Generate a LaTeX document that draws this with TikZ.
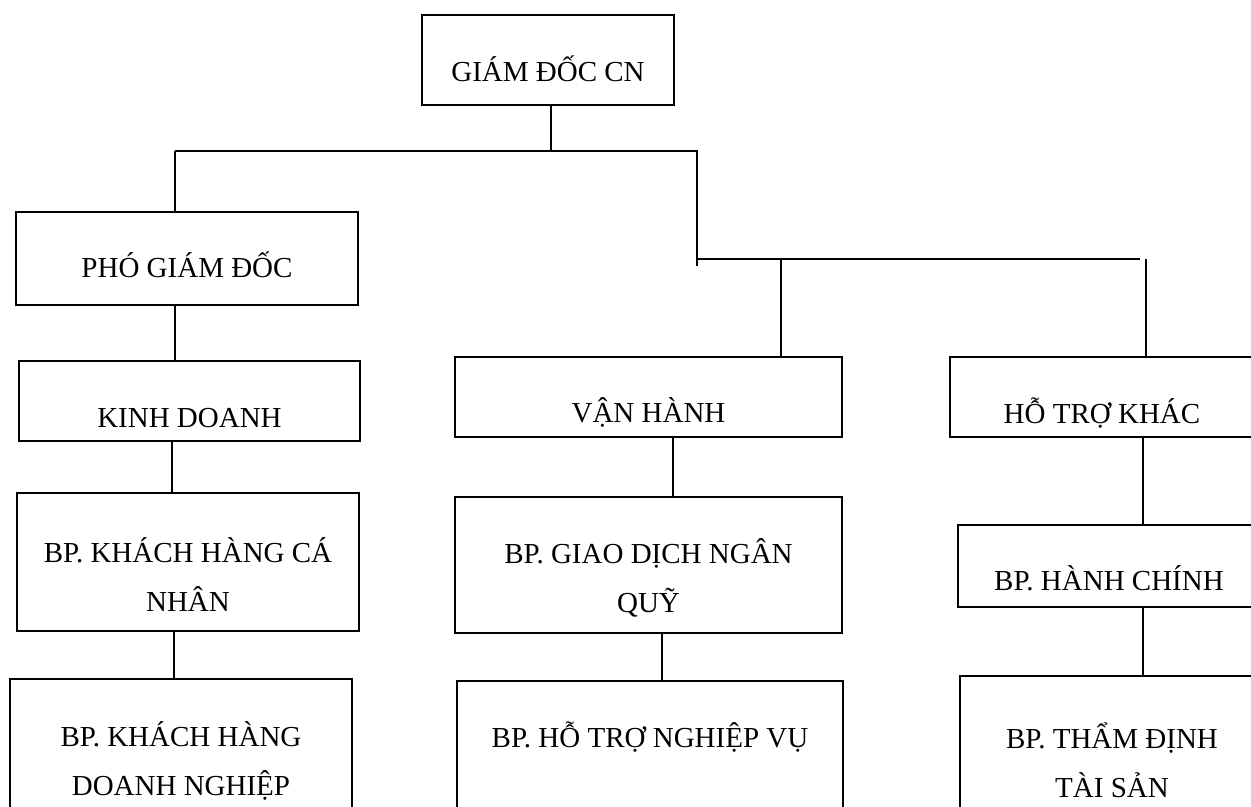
\documentclass[tikz,border=0pt]{standalone}
\usepackage{fontspec}
\setmainfont{Liberation Serif}
\usetikzlibrary{fit}
\tikzset{
	box/.style={draw, line width=0.6pt, inner sep=0pt},
	txt/.style={font=\fontsize{14.5}{24.5}\selectfont, align=center, inner sep=0pt},
	oneline/.style={txt, text height=9.6pt, text depth=0pt},
	link/.style={line width=0.6pt},
}

\begin{document}
\begin{tikzpicture}[x=0.5pt, y=-0.5pt]
		%%%%% START %%%%%
		\useasboundingbox (0, 0) rectangle (1251, 807);
		\clip (0, 0) rectangle (1251, 807);
		
		% top
		\node[box, fit={(422, 15) (674, 105)}, label={[oneline, yshift=-5.75pt]center:GIÁM ĐỐC CN}] (gd) {};
		
		% left branch
		\node[box, fit={(16, 212) (358, 305)}, label={[oneline, yshift=-4.75pt]center:PHÓ GIÁM ĐỐC}] (pho) {};
		\node[box, fit={(19, 361) (360, 441)}, label={[oneline, yshift=-8.5pt]center:KINH DOANH}] (kd) {};
		\node[box, fit={(17, 493) (359, 631)}, label={[txt, yshift=-6.5pt]center:BP. KHÁCH HÀNG CÁ\\NHÂN}] (khcn) {};
		\node[box, fit={(10, 679) (352, 820)}, label={[txt, yshift=-5.5pt]center:BP. KHÁCH HÀNG\\DOANH NGHIỆP}] (khdn) {};
		
		% middle branch
		\node[box, fit={(455, 357) (842, 437)}, label={[oneline, yshift=-8pt]center:VẬN HÀNH}] (vh) {};
		\node[box, fit={(455, 497) (842, 633)}, label={[txt, yshift=-6.5pt]center:BP. GIAO DỊCH NGÂN\\QUỸ}] (gdnq) {};
		\node[box, fit={(457, 681) (843, 820)}, label={[oneline, yshift=6.5pt]center:BP. HỖ TRỢ NGHIỆP VỤ}] (htnv) {};
		
		% right branch
		\node[box, fit={(950, 357) (1254, 437)}, label={[oneline, yshift=-8.5pt]center:HỖ TRỢ KHÁC}] (htk) {};
		\node[box, fit={(958, 525) (1260, 607)}, label={[oneline, yshift=-7.25pt]center:BP. HÀNH CHÍNH}] (hc) {};
		\node[box, fit={(960, 676) (1264, 820)}, label={[txt, yshift=-6pt]center:BP. THẨM ĐỊNH\\TÀI SẢN}] (td) {};
		
		% buses
		\coordinate (bus1l) at (175, 151);
		\coordinate (bus1r) at (697, 151);
		\coordinate (bus2l) at (697, 259);
		\coordinate (bus2r) at (1140, 259);
		\coordinate (drop) at (697, 266);
		
		\draw[link] (gd.south -| 551,0) -- (bus1l -| 551,0);
		\draw[link] (bus1l) -- (bus1r) -- (drop);
		\draw[link] (bus2l) -- (bus2r);
		\draw[link] (bus1l) -- (pho.north -| bus1l);
		\draw[link] (bus2l -| 781,0) -- (vh.north -| 781,0);
		\draw[link] (bus2l -| 1146,0) -- (htk.north -| 1146,0);
		
		% left column
		\draw[link] (pho.south -| 175,0) -- (kd.north -| 175,0);
		\draw[link] (kd.south -| 172,0) -- (khcn.north -| 172,0);
		\draw[link] (khcn.south -| 174,0) -- (khdn.north -| 174,0);
		
		% middle column
		\draw[link] (vh.south -| 673,0) -- (gdnq.north -| 673,0);
		\draw[link] (gdnq.south -| 662,0) -- (htnv.north -| 662,0);
		
		% right column
		\draw[link] (htk.south -| 1143,0) -- (hc.north -| 1143,0);
		\draw[link] (hc.south -| 1143,0) -- (td.north -| 1143,0);
		
		%%%%% END %%%%%
\end{tikzpicture}
\end{document}
